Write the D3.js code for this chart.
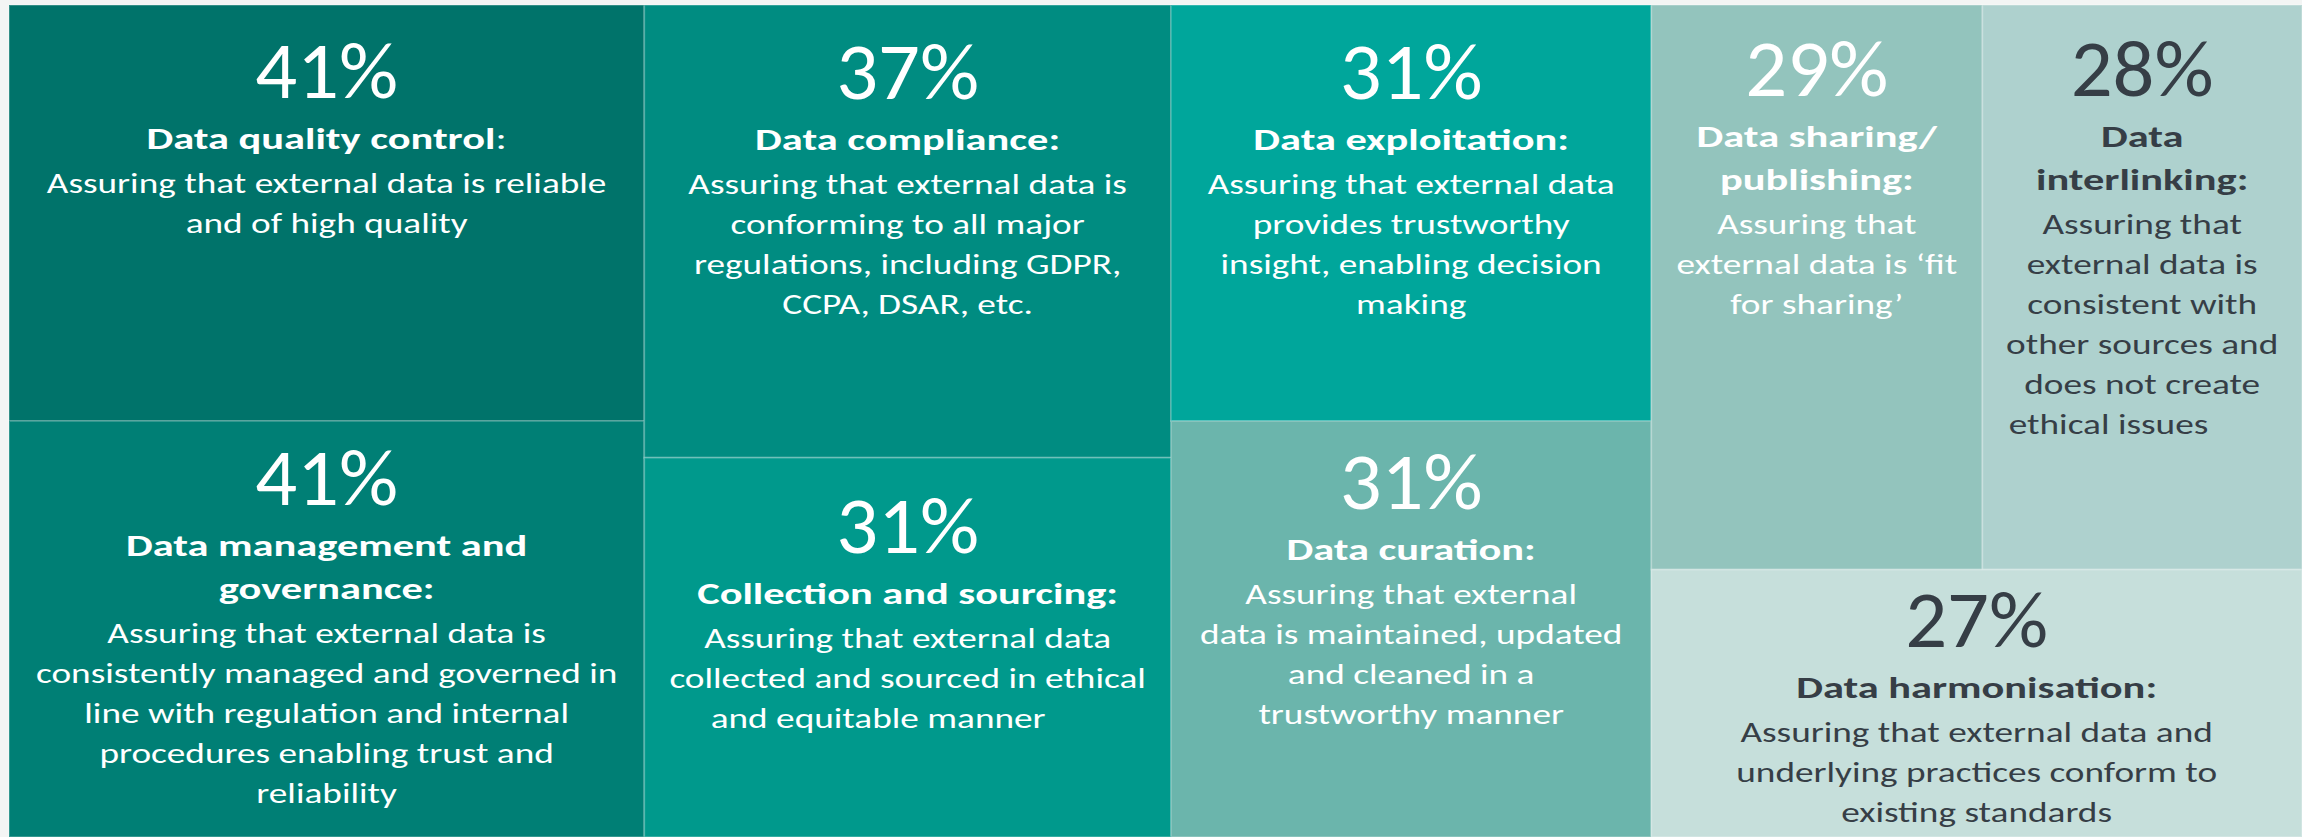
<!DOCTYPE html>
<html lang="en">
<head>
<meta charset="utf-8">
<title>External data assurance</title>
<script src="https://d3js.org/d3.v7.min.js"></script>
<style>
  html, body { margin: 0; padding: 0; background: #f3f5f4; }
  svg { display: block; }
  text { font-family: Carlito, Calibri, Lato, "Open Sans", sans-serif; }
</style>
</head>
<body>
<svg id="chart" width="2302" height="837"></svg>
<script>

// share of respondents per assurance area
var categories = ["Data quality control", "Data management and governance", "Data compliance",
                  "Collection and sourcing", "Data exploitation", "Data curation",
                  "Data sharing/ publishing", "Data interlinking", "Data harmonisation"];
var values = [41, 41, 37, 31, 31, 31, 29, 28, 27];

// label lines, broken as in the original slide
var headingLines = [
  ["Data quality control:"],
  ["Data management and", "governance:"],
  ["Data compliance:"],
  ["Collection and sourcing:"],
  ["Data exploitation:"],
  ["Data curation:"],
  ["Data sharing/", "publishing:"],
  ["Data", "interlinking:"],
  ["Data harmonisation:"]
];
var bodyLines = [
  ["Assuring that external data is reliable", "and of high quality"],
  ["Assuring that external data is", "consistently managed and governed in", "line with regulation and internal",
   "procedures enabling trust and", "reliability"],
  ["Assuring that external data is", "conforming to all major", "regulations, including GDPR,", "CCPA, DSAR, etc."],
  ["Assuring that external data", "collected and sourced in ethical", "and equitable manner\u00a0\u00a0\u00a0\u00a0\u00a0\u00a0\u00a0"],
  ["Assuring that external data", "provides trustworthy", "insight, enabling decision", "making"],
  ["Assuring that external", "data is maintained, updated", "and cleaned in a", "trustworthy manner"],
  ["Assuring that", "external data is \u2018fit", "for sharing\u2019"],
  ["Assuring that", "external data is", "consistent with", "other sources and", "does not create",
   "ethical issues\u00a0\u00a0\u00a0\u00a0\u00a0\u00a0\u00a0\u00a0"],
  ["Assuring that external data and", "underlying practices conform to", "existing standards"]
];

// how the tiles are grouped: columns, each stacked top to bottom
var columns = [[0, 1], [2, 3], [4, 5], [[6, 7], 8]];

// styling
var fills = ["#00736a", "#007f75", "#008c81", "#00998c", "#00a69b", "#6bb5ac", "#93c4bd", "#aed1ce", "#c6dfdb"];
var inks = ["#fff", "#fff", "#fff", "#fff", "#fff", "#fff", "#fff", "#363e46", "#363e46"];
var pctTop = [93, 84, 94, 95, 94, 88, 91, 91, 77];   // percent baseline below tile top

var width = 2302, height = 837,
    marginLeft = 9, marginTop = 5;

var svg = d3.select("#chart");

function toNode(c) {
  return Array.isArray(c) ? { children: c.map(toNode) } : { id: c, value: values[c] };
}

var root = d3.hierarchy({ children: columns.map(toNode) })
    .sum(function(d) { return d.value || 0; });

// columns side by side, then stacked, then side by side again
function tiling(node, x0, y0, x1, y1) {
  (node.depth % 2 === 0 ? d3.treemapDice : d3.treemapSlice)(node, x0, y0, x1, y1);
}

d3.treemap().size([width - marginLeft, height - marginTop]).tile(tiling)(root);

var g = svg.append("g").attr("transform", "translate(" + marginLeft + "," + marginTop + ")");

var leaf = g.selectAll("g.leaf")
  .data(root.leaves())
  .enter().append("g")
    .attr("class", "leaf");

leaf.append("rect")
    .attr("x", function(d) { return d.x0; })
    .attr("y", function(d) { return d.y0; })
    .attr("width", function(d) { return d.x1 - d.x0; })
    .attr("height", function(d) { return d.y1 - d.y0; })
    .attr("fill", function(d) { return fills[d.data.id]; })
    .attr("stroke", "rgba(255,255,255,0.2)")
    .attr("stroke-width", 2);

var pctSize = 80, headSize = 31, bodySize = 29;

// condense text so it has the narrow proportions of the original
function fit(str, size, weight, target) {
  var p = svg.append("text").attr("font-size", size).attr("font-weight", weight).text(str);
  var k = target / p.node().getComputedTextLength();
  p.remove();
  return k;
}
var sxBody = fit("Assuring that external data is reliable", bodySize, "normal", 560),
    sxHead = fit("Collection and sourcing:", headSize, "bold", 421),
    sxPct = fit("41%", pctSize, "normal", 143);

leaf.each(function(d) {
  var i = d.data.id,
      cx = (d.x0 + d.x1) / 2;
  var lab = d3.select(this).append("g")
      .attr("transform", "translate(" + cx + "," + d.y0 + ")")
      .attr("fill", inks[i])
      .attr("text-anchor", "middle");

  function line(y, sx) {
    return lab.append("text").attr("transform", "translate(0," + y + ") scale(" + sx + ",1)");
  }

  var y = pctTop[i];
  line(y, sxPct)
      .attr("font-size", pctSize)
      .text(values[i] + "%");

  y += 51;
  headingLines[i].forEach(function(s, k) {
    var t = line(y, sxHead).attr("font-size", headSize).attr("font-weight", "bold");
    if (i === 0) {
      t.text(s.slice(0, -1));
      t.append("tspan").attr("font-weight", "normal").text(":");
    } else {
      t.text(s);
    }
    if (k < headingLines[i].length - 1) y += 43;
  });

  y += 44;
  bodyLines[i].forEach(function(s) {
    line(y, sxBody)
        .attr("font-size", bodySize)
        .attr("xml:space", "preserve")
        .text(s);
    y += 40;
  });
});

</script>
</body>
</html>
